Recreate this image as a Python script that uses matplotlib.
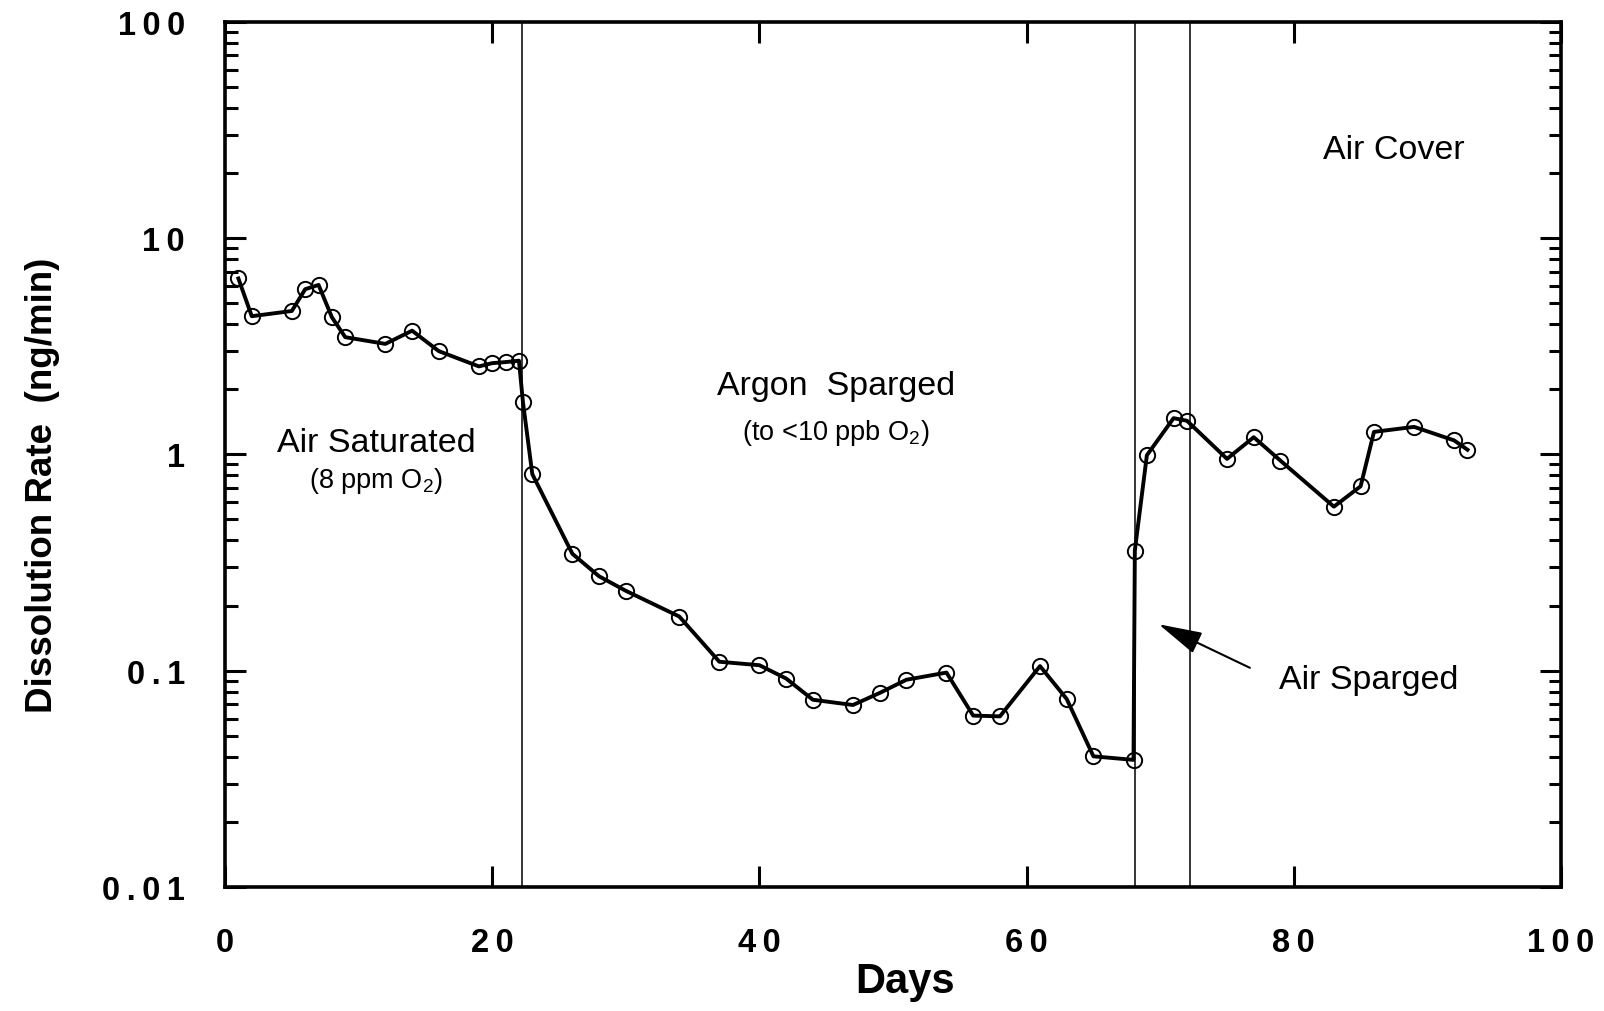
import matplotlib
matplotlib.use("Agg")
import matplotlib.pyplot as plt
import numpy as np

plt.rcParams['font.family'] = ['Liberation Sans', 'DejaVu Sans']

# data
days = [1, 2, 5, 6, 7, 8, 9, 12, 14, 16, 19, 20, 21, 22, 22.3, 23,
        26, 28, 30, 34, 37, 40, 42, 44, 47, 49, 51, 54, 56, 58, 61, 63, 65, 68,
        68.1, 69, 71, 72, 75, 77, 79, 83, 85, 86, 89, 92, 93]
rate = [6.5, 4.35, 4.6, 5.8, 6.07, 4.3, 3.48, 3.24, 3.73, 3.0, 2.55, 2.64, 2.67, 2.71, 1.74, 0.81,
        0.347, 0.273, 0.234, 0.178, 0.110, 0.106, 0.092, 0.0734, 0.0694, 0.0789, 0.0908, 0.098,
        0.062, 0.0615, 0.105, 0.074, 0.0402, 0.0387,
        0.359, 0.99, 1.47, 1.43, 0.953, 1.20, 0.935, 0.573, 0.712, 1.27, 1.34, 1.16, 1.05]

phase_lines = [22.2, 68.1, 72.2]
y_ticks = [0.01, 0.1, 1, 10, 100]
y_labels = ['0.01', '0.1', '1', '10', '100']
x_ticks = [0, 20, 40, 60, 80, 100]
x_labels = ['0', '20', '40', '60', '80', '100']


def spaced(s):
    # the original typesetting has wide letter spacing on the tick numbers
    return '\u2009'.join(s)


fig = plt.figure(figsize=(16.04, 10.12), dpi=100)
ax = fig.add_axes([0.1403, 0.1225, 0.8329, 0.8551])

for xv in phase_lines:
    ax.axvline(xv, color='black', lw=1.1)

ax.plot(days, rate, color='black', lw=2.8, marker='o', ms=11, mfc='none',
        mec='black', mew=1.4)

ax.set_yscale('log')
ax.set_ylim(0.01, 100)
ax.set_xlim(0, 100)
ax.set_yticks(y_ticks)
ax.set_yticklabels([spaced(s) for s in y_labels])
ax.set_xticks(x_ticks)
ax.set_xticklabels([spaced(s) for s in x_labels])
ax.yaxis.set_minor_locator(matplotlib.ticker.LogLocator(base=10, subs=np.arange(2, 10)))
ax.yaxis.set_minor_formatter(matplotlib.ticker.NullFormatter())

ax.tick_params(which='both', direction='in', top=True, right=True, width=2.2)
ax.tick_params(which='major', length=15, pad=29, labelsize=23.5)
ax.tick_params(which='minor', length=9)
for lab in ax.get_xticklabels() + ax.get_yticklabels():
    lab.set_fontweight('bold')
for sp in ax.spines.values():
    sp.set_linewidth(2.6)

ax.set_xlabel('Days', fontsize=30, fontweight='bold')
ax.xaxis.set_label_coords(0.509, -0.086)
ax.set_ylabel('Dissolution Rate  (ng/min)', fontsize=26.5, fontweight='bold')
ax.yaxis.set_label_coords(-0.1235, 0.465)

# phase annotations
ax.text(11.3, 1.14, 'Air Saturated', fontsize=24.5, ha='center', va='center')
ax.text(11.3, 0.76, r'(8 ppm O$_\mathregular{2}$)', fontsize=19.5, ha='center', va='center')
ax.text(45.7, 2.08, 'Argon  Sparged', fontsize=24.5, ha='center', va='center')
ax.text(45.7, 1.27, r'(to <10 ppb O$_\mathregular{2}$)', fontsize=19.5, ha='center', va='center')
ax.text(87.5, 25.7, 'Air Cover', fontsize=24.5, ha='center', va='center')
ax.text(85.6, 0.0912, 'Air Sparged', fontsize=24.5, ha='center', va='center')
ax.annotate('', xy=(69.7, 0.166), xytext=(76.9, 0.1018),
            arrowprops=dict(arrowstyle='-|>,head_length=0.85,head_width=0.22',
                            color='black', lw=1.5, mutation_scale=32))

fig.savefig('out.png', dpi=100)
